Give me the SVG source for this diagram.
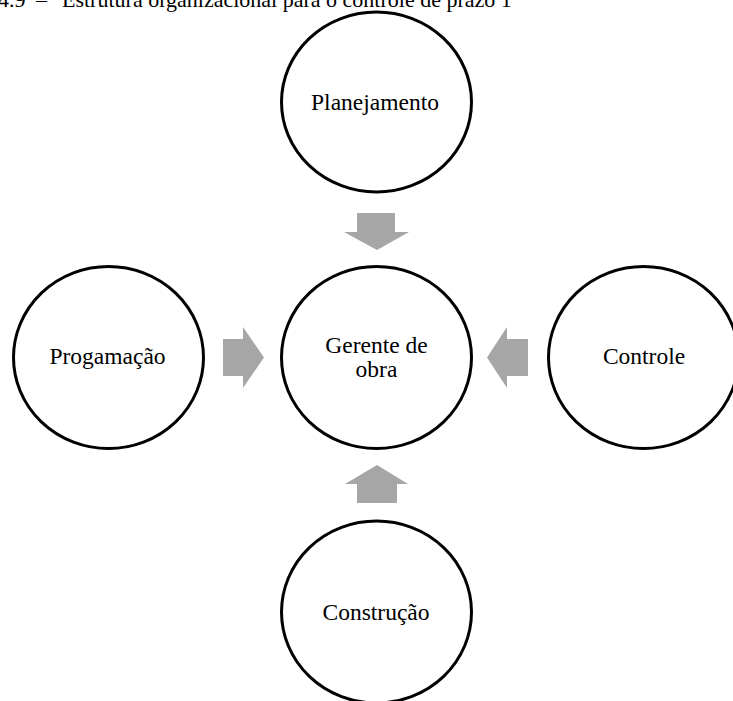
<svg xmlns="http://www.w3.org/2000/svg" width="733" height="701" viewBox="0 0 733 701">
<style>
.node ellipse{fill:#ffffff;stroke:#000000;stroke-width:3}
.lbl{font-family:"Liberation Serif","Times New Roman",serif;font-size:23.5px;fill:#000000;text-anchor:middle}
.title{font-family:"Liberation Serif","Times New Roman",serif;font-size:22px;fill:#000000}
.arrow{fill:#a6a6a6;stroke:none}
</style>
<rect width="733" height="701" fill="#ffffff"/>
<g id="title">
<text class="title" x="-2" y="6.5">4.9</text>
<text class="title" x="36" y="6.5">–</text>
<text class="title" x="62" y="6.5">Estrutura organizacional para o controle de prazo 1</text>
</g>
<g id="connectors">
<polygon class="arrow" points="357,213 395,213 395,232 409,232 377,250 344,232 357,232"/>
<polygon class="arrow" points="223,339 243,339 243,327 264,357.5 243,388 243,376 223,376"/>
<polygon class="arrow" points="528,339 507,339 507,327 487,357.5 507,388 507,376 528,376"/>
<polygon class="arrow" points="357,503 397,503 397,484 408,484 377,465 345,484 357,484"/>
</g>
<g id="planejamento" class="node">
<ellipse cx="376.5" cy="102" rx="95" ry="90"/>
<text class="lbl" x="375" y="110">Planejamento</text>
</g>
<g id="progamacao" class="node">
<ellipse cx="108.5" cy="357.5" rx="95" ry="91"/>
<text class="lbl" x="107.5" y="364">Progamação</text>
</g>
<g id="gerente" class="node">
<ellipse cx="376.5" cy="357.5" rx="95" ry="91"/>
<text class="lbl" x="376.5" y="352.5">Gerente de</text>
<text class="lbl" x="376.5" y="377">obra</text>
</g>
<g id="controle" class="node">
<ellipse cx="643.5" cy="357.5" rx="95" ry="91"/>
<text class="lbl" x="644" y="364">Controle</text>
</g>
<g id="construcao" class="node">
<ellipse cx="376.5" cy="612" rx="95" ry="91"/>
<text class="lbl" x="376" y="620">Construção</text>
</g>
</svg>
